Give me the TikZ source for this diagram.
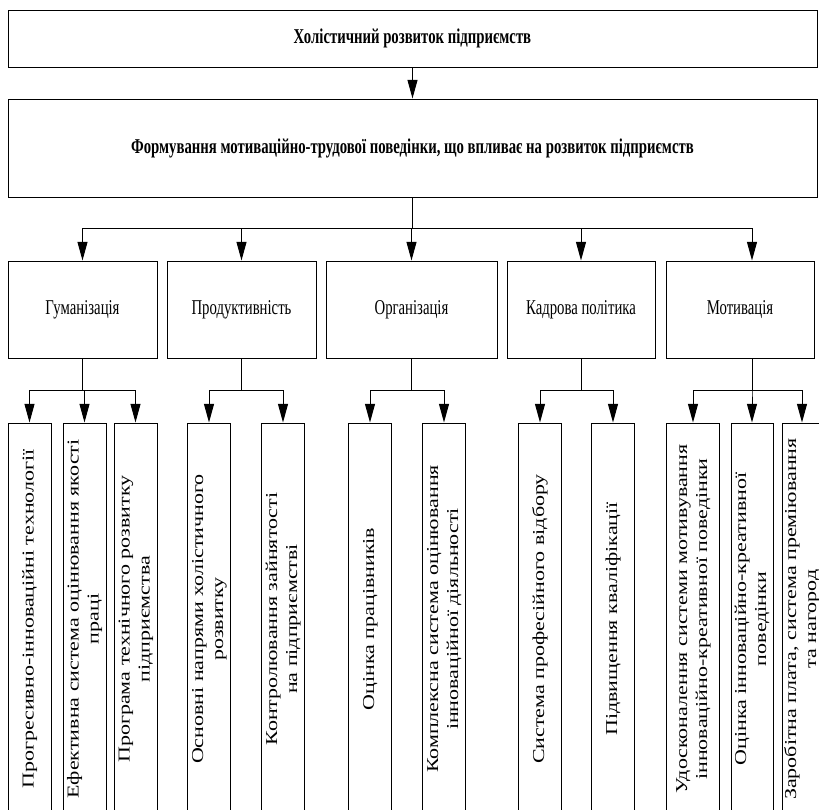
\documentclass[tikz,border=0pt]{standalone}
\usepackage{fontspec}
\usepackage{graphicx}
\setmainfont{Liberation Serif}
\newfontfamily\narrowrm[FakeStretch=0.7]{Liberation Serif}
\newfontfamily\widerm[FakeStretch=1.32]{Liberation Serif}
\usetikzlibrary{arrows.meta}
\tikzset{>={Triangle[length=14pt,width=7.5pt]}}
\newcommand{\pxu}{*0.75pt}
\newcommand{\vlabel}[1]{\rotatebox{90}{\begin{tabular}{@{}c@{}}#1\end{tabular}}}

\begin{document}
\begin{tikzpicture}[x=0.75pt,y=-0.75pt,line width=0.75pt,
    box/.style={draw,rectangle,inner sep=0pt,align=center},
    headbox/.style={box,minimum width=809\pxu,font=\narrowrm\bfseries\fontsize{15.8}{18}\selectfont},
    catbox/.style={box,minimum height=97\pxu,font=\narrowrm\fontsize{15.8}{18}\selectfont},
    subbox/.style={box,minimum height=392\pxu,font=\widerm\fontsize{12.5}{15}\selectfont}]
                \clip (0,0) rectangle (819,810);

                % Draw the two top boxes
                \node[headbox,minimum height=57\pxu] (holist) at (412.5,38.5) {Холістичний розвиток підприємств};
                \node[headbox,minimum height=98\pxu] (form) at (412.5,148) {Формування мотиваційно-трудової поведінки, що впливає на розвиток підприємств};

                % Draw the five directions
                \node[catbox,minimum width=149\pxu] (hum) at (82.5,309.5) {Гуманізація};
                \node[catbox,minimum width=149\pxu] (prod) at (241.5,309.5) {Продуктивність};
                \node[catbox,minimum width=171\pxu] (org) at (411.5,309.5) {Організація};
                \node[catbox,minimum width=148\pxu] (kadr) at (581,309.5) {Кадрова політика};
                \node[catbox,minimum width=148\pxu] (mot) at (740,309.5) {Мотивація};

                % Draw the vertical boxes
                \node[subbox,minimum width=43\pxu] (g1) at (29.5,619) {\vlabel{Прогресивно-інноваційні технології}};
                \node[subbox,minimum width=43\pxu] (g2) at (84.5,619) {\vlabel{Ефективна система оцінювання якості\\праці}};
                \node[subbox,minimum width=43\pxu] (g3) at (135.5,619) {\vlabel{Програма технічного розвитку\\підприємства}};
                \node[subbox,minimum width=43\pxu] (p1) at (209,619) {\vlabel{Основні напрями холістичного\\розвитку}};
                \node[subbox,minimum width=43\pxu] (p2) at (283,619) {\vlabel{Контролювання зайнятості\\на підприємстві}};
                \node[subbox,minimum width=43\pxu] (o1) at (370,619) {\vlabel{Оцінка працівників}};
                \node[subbox,minimum width=43\pxu] (o2) at (444,619) {\vlabel{Комплексна система оцінювання\\інноваційної діяльності}};
                \node[subbox,minimum width=43\pxu] (k1) at (540,619) {\vlabel{Система професійного відбору}};
                \node[subbox,minimum width=43\pxu] (k2) at (613,619) {\vlabel{Підвищення кваліфікації}};
                \node[subbox,minimum width=53\pxu] (m1) at (693,619) {\vlabel{Удосконалення системи мотивування\\інноваційно-креативної поведінки}};
                \node[subbox,minimum width=42\pxu] (m2) at (752,619) {\vlabel{Оцінка інноваційно-креативної\\поведінки}};
                \node[subbox,minimum width=40\pxu] (m3) at (802,619) {\vlabel{Заробітна плата, система преміювання\\та нагород}};

                % Draw the arrows
                \draw[->] (holist) -- (form);
                \coordinate (topbus) at (form.south |- 0,228);
                \draw (form.south) -- (topbus);
                \foreach \c in {hum,prod,org,kadr}
                    \draw[->] (topbus) -| (\c.north);
                \draw[->] (topbus) -| (m2.north |- mot.north);

                \foreach \c/\s in {hum/g1,hum/g2,hum/g3,prod/p1,prod/p2,org/o1,org/o2,kadr/k1,kadr/k2}
                    \draw[->] (\c.south) |- (\s.north |- 0,390) -- (\s.north);
                \foreach \s in {m1,m2,m3}
                    \draw[->] (m2.north |- mot.south) |- (\s.north |- 0,390) -- (\s.north);
             \end{tikzpicture}
\end{document}
